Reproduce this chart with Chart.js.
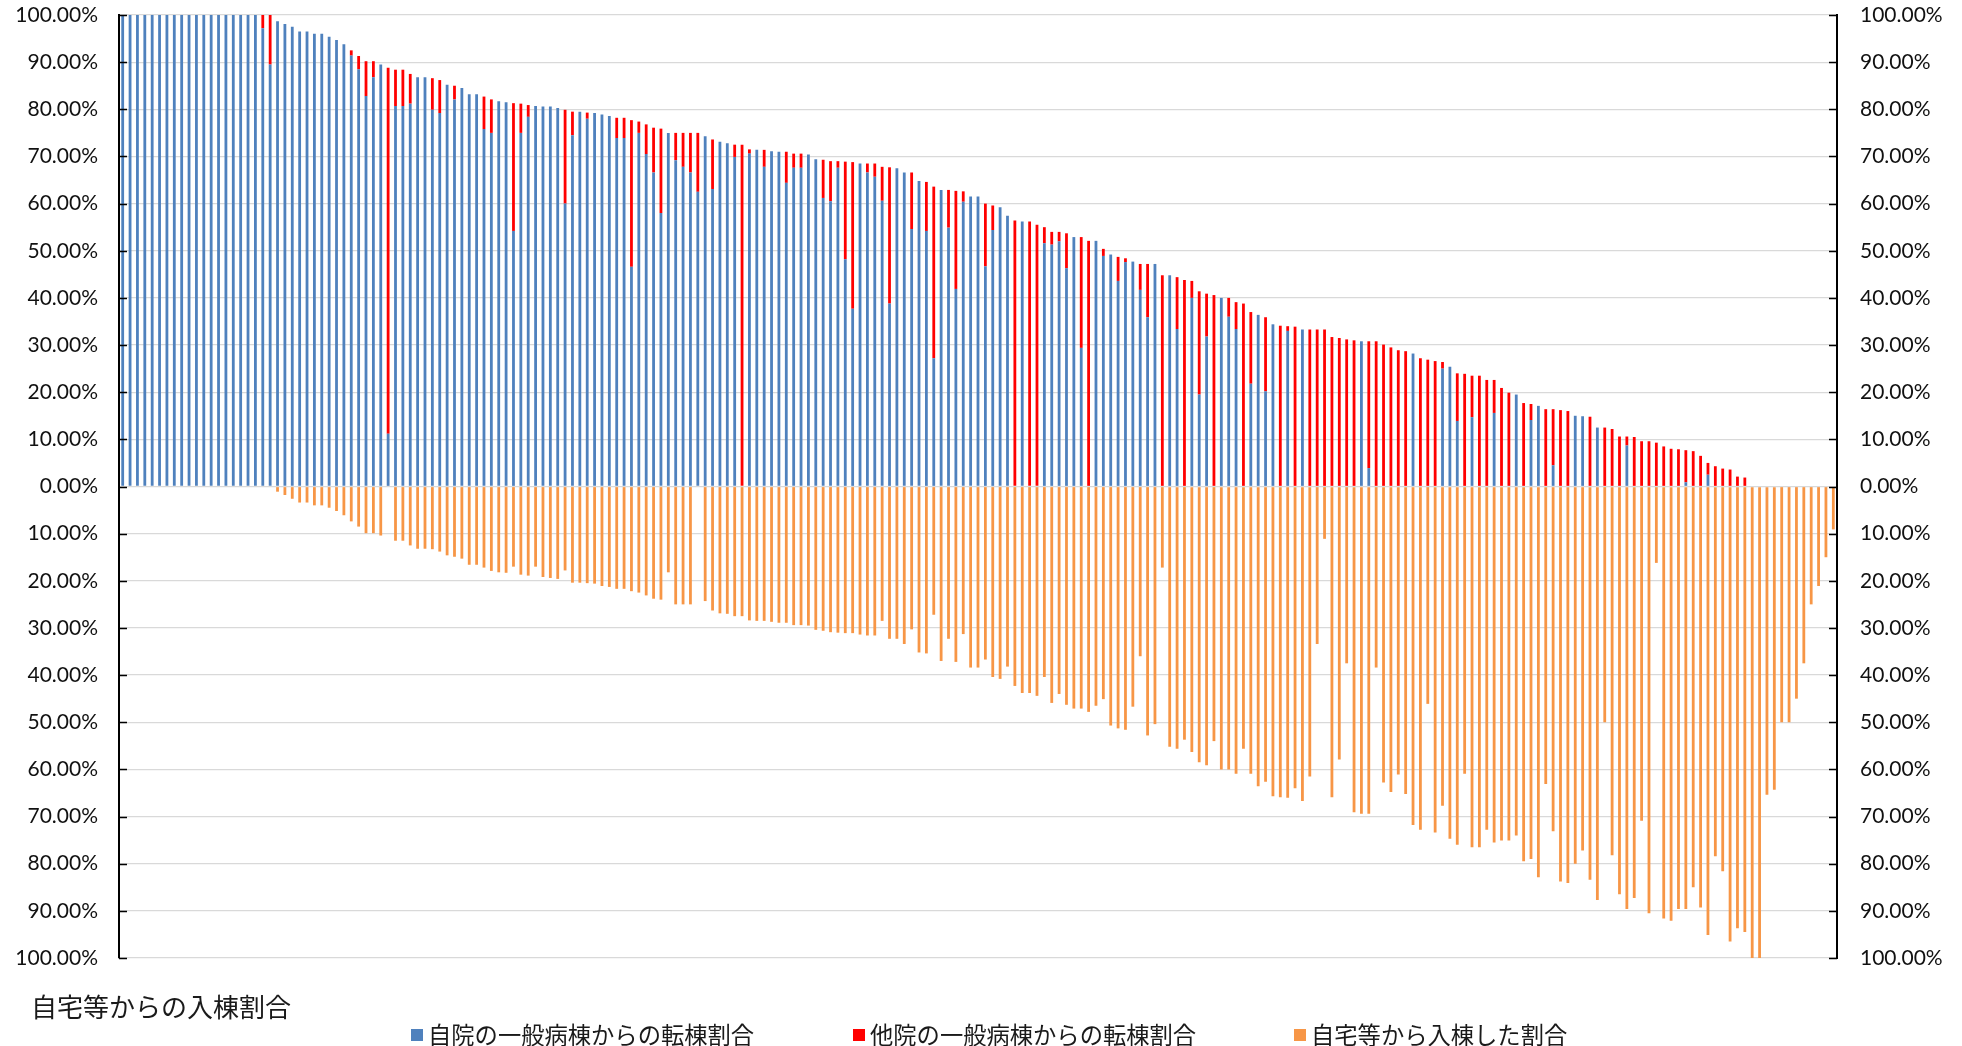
<!DOCTYPE html>
<html>
<head>
<meta charset="utf-8">
<script src="https://cdn.jsdelivr.net/npm/chart.js@4.4.1/dist/chart.umd.min.js"></script>
<style>
  html, body { margin: 0; padding: 0; background: #ffffff; width: 1962px; height: 1046px; overflow: hidden; }
  #chart { position: absolute; left: 0; top: 0; }
  #title { position: absolute; left: 31px; top: 991px; font-family: "Noto Sans CJK JP", sans-serif; font-size: 26px; line-height: 30px; color: #1a1a1a; white-space: nowrap; }
  .sw { position: absolute; top: 1029px; width: 12px; height: 12px; }
  .lt { position: absolute; top: 1020px; font-family: "Noto Sans CJK JP", sans-serif; font-size: 23.3px; line-height: 28px; color: #1a1a1a; white-space: nowrap; }
</style>
</head>
<body>
<canvas id="chart" width="1962" height="1046"></canvas>
<div id="title">自宅等からの入棟割合</div>
<div class="sw" style="left:411px;background:#4f81bd"></div>
<div class="lt" style="left:428px">自院の一般病棟からの転棟割合</div>
<div class="sw" style="left:853px;background:#ff0000"></div>
<div class="lt" style="left:870px">他院の一般病棟からの転棟割合</div>
<div class="sw" style="left:1294px;background:#f79646"></div>
<div class="lt" style="left:1311px">自宅等から入棟した割合</div>
<script>
// 自院の一般病棟からの転棟割合 (%)
const selfRatio = [
  100,100,100,100,100,100,100,100,100,100,100,100,100,100,100,100,100,100,100,
  97.2,89.5,98.7,98.1,97.5,96.5,96.5,96.0,96.0,95.4,94.7,93.8,91.4,88.5,82.8,86.8,89.5,11.2,80.7,80.7,81.2,
  86.8,86.8,79.9,79.2,85.2,82.1,84.5,83.2,83.2,75.8,75.0,81.7,81.5,54.2,75.0,78.4,80.7,80.6,80.6,80.3,
  60.0,74.5,79.5,78.0,79.2,78.9,78.6,73.9,73.9,46.6,75.0,70.5,66.6,58.0,75.0,69.2,67.8,66.6,62.5,74.3,
  63.1,73.1,72.8,69.9,0,70.6,71.4,67.8,71.1,71.0,64.4,67.6,67.6,70.4,69.4,61.2,60.5,67.6,48.2,37.7,
  68.5,66.6,65.7,60.6,38.8,67.5,66.6,54.6,64.8,54.2,27.2,62.9,54.9,41.9,60.4,61.5,61.5,46.7,54.4,59.2,
  57.4,0,56.2,0,0,51.6,51.3,52.0,46.3,52.9,29.4,0,52.1,48.9,49.2,43.6,47.6,47.7,41.7,35.9,
  47.2,0,44.8,33.4,0,40.0,19.5,31.8,0,40.0,36.0,33.4,0,21.8,36.4,20.2,34.4,0,33.0,0,
  33.3,0,0,0,0,0,0,0,30.8,3.9,0,0,0,0,0,28.2,0,0,0,25.0,
  25.4,13.9,0,14.7,0,0,15.6,0,0,19.5,0,14.1,17.1,0,4.5,0,0,15.0,14.9,0,
  12.5,0,0,0,8.7,0,0,0,0,0,0,0,0.9,0,0,2.5,0,0,0,0,
  0,0,0,0,0,0,0,0,0,0,0,0,0
];
// 他院の一般病棟からの転棟割合 (%)
const otherRatio = [
  0,0,0,0,0,0,0,0,0,0,0,0,0,0,0,0,0,0,0,
  2.8,10.5,0,0,0,0,0,0,0,0,0,0,1.1,2.8,7.4,3.4,0,77.6,7.7,7.7,6.3,
  0,0,6.7,7.0,0,2.9,0,0,0,6.9,7.1,0,0,27.1,6.2,2.5,0,0,0,0,
  19.9,5.0,0,1.3,0,0,0,4.3,4.3,31.1,2.4,6.3,9.5,17.9,0,5.8,7.2,8.4,12.5,0,
  10.5,0,0,2.6,72.5,0.9,0,3.6,0,0,6.6,3.0,3.0,0,0,8.1,8.5,1.4,20.7,31.1,
  0,1.9,2.8,7.2,28.9,0,0,12.0,0,10.4,36.4,0,8.0,20.8,2.2,0,0,13.3,5.2,0,
  0,56.4,0,56.2,55.5,3.4,2.7,2.0,7.4,0,23.5,52.1,0,1.5,0,5.1,0.8,0,5.5,11.3,
  0,44.8,0,11.0,43.8,3.6,21.9,9.1,40.6,0,4.0,5.7,38.8,15.2,0,15.7,0,34.1,1.0,33.9,
  0,33.3,33.3,33.3,31.7,31.5,31.2,31.0,0,26.9,30.8,30.1,29.5,28.9,28.7,0,27.2,26.9,26.6,1.4,
  0,10.1,23.9,8.8,23.5,22.6,7.0,20.9,19.9,0,17.7,3.4,0,16.4,11.9,16.2,16.0,0,0,14.8,
  0,12.5,12.2,10.6,1.9,10.5,9.6,9.6,9.3,8.5,8.0,7.9,6.8,7.5,6.5,2.5,4.3,3.8,3.6,2.1,
  1.9,0,0,0,0,0,0,0,0,0,0,0,0
];
// 自宅等から入棟した割合 (%), drawn below the zero line
const homeRatio = [
  0,0,0,0,0,0,0,0,0,0,0,0,0,0,0,0,0,0,0,0,0,
  1.1,1.8,2.6,3.4,3.4,4.0,4.0,4.5,5.2,6.1,7.4,8.5,9.9,9.9,10.4,0,11.5,11.5,12.5,
  13.2,13.2,13.3,13.8,14.6,14.9,15.3,16.6,16.6,17.2,17.9,18.2,18.3,17.0,18.7,18.9,17.0,19.2,19.4,19.6,
  17.8,20.4,20.4,20.5,20.6,21.1,21.3,21.7,21.7,22.2,22.5,23.1,23.8,24.0,18.2,25.0,25.0,25.0,0,24.3,
  26.3,26.9,27.0,27.5,27.5,28.4,28.5,28.5,28.7,28.9,28.9,29.4,29.4,29.5,30.4,30.6,30.9,31.0,31.1,31.1,
  31.4,31.6,31.6,28.5,32.3,32.3,33.4,30.3,35.2,35.4,27.2,37.0,32.3,37.2,31.3,38.4,38.4,36.7,40.4,40.8,
  38.2,42.3,43.8,43.8,44.4,40.4,45.9,44.0,46.3,47.1,47.1,47.8,46.5,45.1,50.7,51.3,51.6,46.7,36.0,52.8,
  50.4,17.2,55.2,55.6,53.7,56.3,58.5,59.1,54.0,60.0,60.0,60.9,55.6,60.9,63.6,62.6,65.7,65.9,66.0,64.0,
  66.7,61.5,33.4,11.1,65.9,57.9,37.5,69.1,69.4,69.4,38.4,62.8,64.8,61.1,65.2,71.8,72.8,46.1,73.4,67.7,
  74.7,76.0,60.9,76.5,76.5,72.8,75.5,75.1,75.1,74.0,79.5,79.0,82.9,63.1,73.1,83.8,84.1,80.0,77.2,83.4,
  87.7,50.0,78.2,86.5,89.6,87.3,70.9,90.5,16.2,91.6,92.1,89.6,89.6,85.0,89.3,95.1,78.4,81.6,96.5,93.7,
  94.5,100,100,65.4,64.3,50.0,50.0,45.0,37.5,25.0,21.1,15.0,9.1
];
// category labels (hospitals, not displayed)
const hospitals = selfRatio.map((_, i) => 'H' + (i + 1));
// y-axis ticks
const yMin = -100, yMax = 100, yStep = 10;

if (selfRatio.length !== 233 || otherRatio.length !== 233 || homeRatio.length !== 233) {
  throw new Error('length mismatch ' + selfRatio.length + ' ' + otherRatio.length + ' ' + homeRatio.length);
}

const fmtTick = v => Math.abs(v).toFixed(2) + '%';

const inwardTicks = {
  id: 'inwardTicks',
  afterDatasetsDraw(chart) {
    const { ctx, chartArea: { left, right } } = chart;
    const ys = chart.scales.y;
    ctx.save();
    ctx.strokeStyle = '#000';
    ctx.lineWidth = 1.6;
    ys.ticks.forEach(t => {
      const y = Math.round(ys.getPixelForValue(t.value)) + 0.5;
      ctx.beginPath();
      ctx.moveTo(left, y); ctx.lineTo(left + 8, y);
      ctx.moveTo(right - 8, y); ctx.lineTo(right, y);
      ctx.stroke();
    });
    ctx.restore();
  }
};

const tickFont = { family: 'Lato, "Liberation Sans", sans-serif', size: 21 };

new Chart(document.getElementById('chart'), {
  type: 'bar',
  data: {
    labels: hospitals,
    datasets: [
      { label: '自院の一般病棟からの転棟割合', data: selfRatio, backgroundColor: '#4f81bd', stack: 's' },
      { label: '他院の一般病棟からの転棟割合', data: otherRatio, backgroundColor: '#ff0000', stack: 's' },
      { label: '自宅等から入棟した割合', data: homeRatio.map(v => -v), backgroundColor: '#f79646', stack: 's' }
    ]
  },
  options: {
    responsive: false,
    animation: false,
    devicePixelRatio: 1,
    datasets: { bar: { barPercentage: 0.38, categoryPercentage: 1.0, borderWidth: 0 } },
    layout: { padding: { top: 15, bottom: 88, left: 0, right: 0 } },
    plugins: { legend: { display: false }, title: { display: false }, tooltip: { enabled: false } },
    scales: {
      x: { stacked: true, display: false, grid: { display: false } },
      y: {
        stacked: true, position: 'left', min: yMin, max: yMax,
        ticks: { stepSize: yStep, callback: fmtTick, font: tickFont, color: '#111', padding: 21 },
        grid: { color: '#d9d9d9', lineWidth: 1.3, drawTicks: false },
        border: { display: true, color: '#000', width: 2 },
        afterFit(s) { s.width = 119; s.paddingTop = 0; s.paddingBottom = 0; }
      },
      y2: {
        position: 'right', min: yMin, max: yMax,
        ticks: { stepSize: yStep, callback: fmtTick, font: tickFont, color: '#111', padding: 23 },
        grid: { drawOnChartArea: false, drawTicks: false },
        border: { display: true, color: '#000', width: 2 },
        afterFit(s) { s.width = 125; s.paddingTop = 0; s.paddingBottom = 0; }
      }
    }
  },
  plugins: [inwardTicks]
});
</script>
</body>
</html>
